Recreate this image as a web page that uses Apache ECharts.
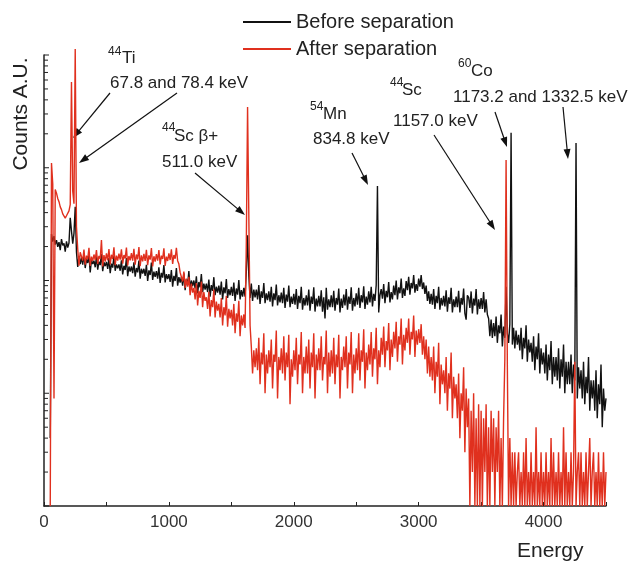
<!DOCTYPE html>
<html><head><meta charset="utf-8">
<script src="https://cdn.jsdelivr.net/npm/echarts@6/dist/echarts.min.js"></script>
<style>html,body{margin:0;padding:0;background:#fff}#c{width:632px;height:565px}</style>
</head><body><div id="c"></div>
<script>
// Channel grid of the spectra (every 10th channel)
const channelStart = 0;
const channelStep = 10;

// Before separation (counts)
const beforeCounts = [
null,null,null,null,null,4,258,221,247,208,
228,199,219,186,233,205,214,180,222,196,
215,360,275,212,262,450,178,132,165,140,
160,138,171,129,155,143,168,118,152,140,
150,131,163,125,147,137,172,121,145,134,
146,127,158,116,141,130,165,122,139,128,
139,122,151,113,135,124,158,109,133,120,
133,116,145,108,129,118,150,104,127,115,
127,110,138,99,123,112,144,101,120,108,
121,104,131,95,117,106,137,96,114,103,
114,97,124,88,110,99,129,90,107,96,
107,90,116,82,103,92,121,84,100,89,
100,85,109,77,97,87,114,79,94,83,
94,79,102,72,91,81,107,74,88,78,
90,75,98,68,87,77,103,70,84,74,
88,73,96,66,85,75,101,68,82,72,
86,72,120,252,110,70,94,66,83,71,
83,68,91,62,80,70,95,63,77,67,
80,65,88,59,77,67,92,60,74,64,
78,63,86,57,75,65,90,58,72,62,
76,61,84,56,73,63,88,55,70,60,
74,60,83,54,72,62,87,53,69,59,
73,59,82,53,71,46,86,55,68,58,
74,58,81,54,70,61,85,52,69,57,
75,60,84,55,72,62,87,54,70,59,
77,61,86,57,74,64,89,56,72,61,
80,64,88,59,76,66,91,690,52,74,
84,69,93,63,81,71,97,64,79,68,
90,74,100,68,87,77,104,70,85,73,
99,82,108,75,95,85,112,78,93,81,
104,88,112,84,96,76,90,66,80,62,
76,61,84,56,73,63,88,55,70,60,
73,59,82,53,71,62,86,52,68,58,
72,58,81,52,70,61,85,51,45,74,
71,57,80,51,69,60,84,50,68,56,
70,56,79,52,68,50,46,32,45,31,
42,32,48,28,40,34,50,26,39,31,
88,34,28,41,2040,27,38,25,36,27,
33,24,38,20,31,25,40,19,30,23,
28,19,32,16,26,20,34,15,25,18,
23,15,27,13,22,16,29,12,21,14,
21,13,25,11,20,14,27,10,19,12,
19,12,22,10,18,13,1660,9,17,11,
16,9,19,8,14,10,21,7,13,9,
13,7,16,6,12,8,18,5,11,7,
9
];

// After separation (counts)
const afterCounts = [
null,null,null,null,null,1,1100,720,9,640,
595,535,500,450,425,390,380,358,375,385,
415,470,5750,620,480,11300,300,190,135,178,
172,150,188,138,166,154,195,135,163,149,
170,152,186,140,165,156,228,133,168,147,
174,151,190,139,169,155,197,137,166,150,
173,153,189,141,168,157,196,136,165,151,
175,150,191,138,170,154,198,134,167,148,
172,149,187,137,167,153,194,133,164,147,
171,150,186,139,166,155,193,135,163,149,
174,152,189,140,168,156,195,150,140,118,
118,98,120,86,104,88,108,74,94,78,
86,68,95,60,81,70,98,58,79,66,
71,56,80,48,67,58,83,47,65,54,
62,47,70,40,58,49,73,39,56,46,
55,40,62,34,51,43,66,32,49,40,
50,38,220,3460,380,40,26,15,24,17,
25,16,31,12,23,18,34,10,22,15,
24,17,30,11,22,19,36,9,21,16,
25,15,32,13,23,17,33,8,20,14,
24,16,31,12,22,18,35,10,21,15,
26,15,30,11,23,17,34,9,22,16,
25,16,32,13,21,18,36,10,23,14,
24,15,31,12,22,17,33,9,21,16,
26,17,32,11,23,18,35,10,22,15,
25,16,34,13,24,19,37,11,23,16,
27,18,35,14,25,20,38,12,24,17,
31,22,39,17,29,24,42,16,30,21,
35,25,43,19,32,27,46,18,33,24,
38,28,46,22,35,30,49,21,36,27,
37,28,41,22,32,20,30,15,26,14,
21,13,26,10,19,14,28,8,18,12,
16,10,21,7,15,11,23,6,14,9,
12,6,15,4,10,7,17,3,11,5,
9,1,7,2,10,1,6,1,8,1,
7,1,6,2,8,1,5,1,7,2,
6,1,5,2,7,1,4,1,6,20,
1170,18,1,4,1,3,1,3,1,2,
3,1,2,1,3,1,4,1,2,1,
3,1,2,1,5,1,2,1,3,1,
2,1,3,1,2,1,4,1,3,1,
2,1,3,1,2,1,5,1,3,1,
2,1,3,1,2,19,1,2,3,1,
3,1,2,1,3,1,2,4,1,2,
3,1,2,1,3,1,2,1,3,1,
2
];

const seriesNames = ['Before separation', 'After separation'];
const xLabelValues = [0, 1000, 2000, 3000, 4000];

const FONT = 'Liberation Sans, Arial, Helvetica, sans-serif';
const BLACK = '#111111';
const RED = '#e0301e';

function toPairs(arr) {
  const out = [];
  arr.forEach((v, i) => { if (v !== null) out.push([channelStart + i * channelStep, v]); });
  return out;
}

const chart = echarts.init(document.getElementById('c'), null, {renderer: 'canvas'});
const option = {
  animation: false,
  backgroundColor: '#ffffff',
  grid: {left: 44, right: 26, top: 55, bottom: 59},
  legend: {
    orient: 'vertical', left: 238, top: 7,
    itemWidth: 48, itemHeight: 2, icon: 'rect', itemGap: 7,
    textStyle: {fontSize: 20, color: '#222', fontFamily: FONT},
    data: seriesNames
  },
  xAxis: {
    type: 'value', min: 0, max: 4500, interval: 500,
    axisLine: {onZero: false, lineStyle: {color: '#222', width: 1.5}},
    axisTick: {inside: true, length: 4, lineStyle: {color: '#222'}},
    axisLabel: {
      fontSize: 17, color: '#333', fontFamily: FONT, margin: 8,
      formatter: v => (xLabelValues.indexOf(v) >= 0 ? String(v) : '')
    },
    splitLine: {show: false}
  },
  yAxis: {
    type: 'log', logBase: 10, min: 1, max: 10000,
    axisLine: {show: true, lineStyle: {color: '#222', width: 1.5}},
    axisTick: {show: false}, axisLabel: {show: false}, splitLine: {show: false}
  },
  series: [
    {name: seriesNames[0], type: 'line', data: toPairs(beforeCounts), symbol: 'none',
     lineStyle: {color: BLACK, width: 1.4}, itemStyle: {color: BLACK}, clip: false},
    {name: seriesNames[1], type: 'line', data: toPairs(afterCounts), symbol: 'none',
     lineStyle: {color: RED, width: 1.4}, itemStyle: {color: RED}, clip: false}
  ]
};
chart.setOption(option);

// log-axis ticks (decades and 2..9 minors) placed through the axis scale
const graphics = [];
const xLeft = chart.convertToPixel({xAxisIndex: 0}, 0);
for (let n = 0; n <= 4; n++) {
  for (let k = 1; k <= 9; k++) {
    const v = k * Math.pow(10, n);
    if (v > 10000) break;
    const y = chart.convertToPixel({yAxisIndex: 0}, v);
    graphics.push({type: 'line', silent: true,
      shape: {x1: xLeft, y1: y, x2: xLeft + (k === 1 ? 5 : 4), y2: y},
      style: {stroke: '#222', lineWidth: 1}});
  }
}

// annotation texts
const notes = [
  ['44', 108, 52, 12], ['Ti', 122, 58, 17], ['67.8 and 78.4 keV', 110, 83, 17],
  ['44', 162, 128, 12], ['Sc β+', 174, 136, 17], ['511.0 keV', 162, 162, 17],
  ['54', 310, 107, 12], ['Mn', 323, 114, 17], ['834.8 keV', 313, 139, 17],
  ['44', 390, 83, 12], ['Sc', 402, 90, 17], ['1157.0 keV', 393, 121, 17],
  ['60', 458, 64, 12], ['Co', 471, 71, 17], ['1173.2 and 1332.5 keV', 453, 97, 17]
];
notes.forEach(([t, x, y, fs]) => graphics.push({type: 'text', x, y, silent: true,
  style: {text: t, fontSize: fs, fontFamily: FONT, fill: '#222', align: 'left', verticalAlign: 'middle'}}));

// arrows: [fromX, fromY, tipX, tipY]
const arrows = [
  [110, 93, 73, 138], [177, 93, 79, 163], [195, 173, 245, 215],
  [352, 153, 368, 185], [434, 135, 495, 230], [495, 112, 507, 147], [563, 107, 568, 159]
];
arrows.forEach(([x1, y1, x2, y2]) => {
  const dx = x2 - x1, dy = y2 - y1, L = Math.hypot(dx, dy);
  const ux = dx / L, uy = dy / L, px = -uy, py = ux;
  const hl = 10, hw = 3.5;
  const bx = x2 - ux * hl, by = y2 - uy * hl;
  graphics.push({type: 'line', silent: true, shape: {x1, y1, x2: bx + ux * 2, y2: by + uy * 2},
    style: {stroke: '#111', lineWidth: 1.2}});
  graphics.push({type: 'polygon', silent: true,
    shape: {points: [[x2, y2], [bx + px * hw, by + py * hw], [bx - px * hw, by - py * hw]]},
    style: {fill: '#111'}});
});

// axis names
graphics.push({type: 'text', x: 517, y: 551, silent: true,
  style: {text: 'Energy', fontSize: 21, fontFamily: FONT, fill: '#222', align: 'left', verticalAlign: 'middle'}});
graphics.push({type: 'text', x: 21, y: 114, rotation: Math.PI / 2, silent: true,
  style: {text: 'Counts A.U.', fontSize: 21, fontFamily: FONT, fill: '#222', align: 'center', verticalAlign: 'middle'}});

chart.setOption({graphic: graphics});
</script>
</body></html>
